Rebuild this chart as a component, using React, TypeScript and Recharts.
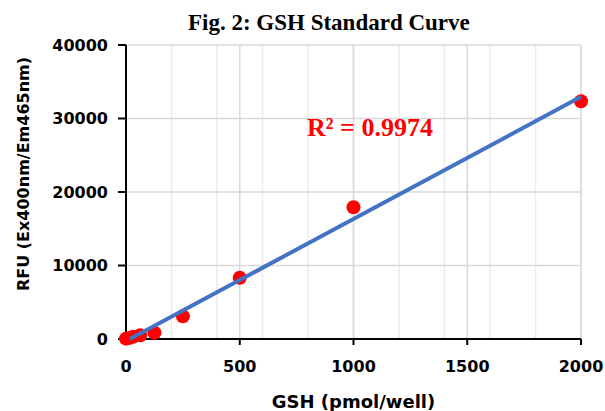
import React from "react";
import { CartesianGrid, Scatter, ScatterChart, XAxis, YAxis } from "recharts";

// GSH standards (pmol/well) and measured RFU
const gshAmounts = [0, 15.6, 31.25, 62.5, 125, 250, 500, 1000, 2000];
const rfuValues = [50, 150, 300, 500, 860, 3080, 8330, 17920, 32350];

// linear trendline end points as drawn in the figure
const trendX = [17, 2000];
const trendY = [0, 32950];

const xTicks = [0, 500, 1000, 1500, 2000];
const yTicks = [0, 10000, 20000, 30000, 40000];
const xMinorGrid = [
  0, 100, 200, 300, 400, 500, 600, 700, 800, 900, 1000,
  1100, 1200, 1300, 1400, 1500, 1600, 1700, 1800, 1900, 2000,
];

const points = gshAmounts.map((x, i) => ({ x, y: rfuValues[i] }));
const trend = trendX.map((x, i) => ({ x, y: trendY[i] }));

const tickFont = { fontFamily: "DejaVu Sans", fontWeight: 700, fontSize: 16, fill: "#000" };

const RedDot = (props: any) => <circle cx={props.cx} cy={props.cy} r={7} fill="#ff0000" />;
const NoDot = () => null;

const YTitle = (props: any) => {
  const vb = props.viewBox;
  const cx = vb.x + 23;
  const cy = 174;
  return (
    <text
      x={cx}
      y={cy}
      transform={`rotate(-90 ${cx} ${cy})`}
      textAnchor="middle"
      dominantBaseline="central"
      style={tickFont}
    >
      RFU (Ex400nm/Em465nm)
    </text>
  );
};

const App = () => {
  return (
    <div style={{ position: "absolute", left: 0, top: 0, width: 605, height: 411, background: "#fff" }}>
      <div
        style={{
          position: "absolute",
          left: 188,
          top: 10,
          fontFamily: "Liberation Serif",
          fontWeight: 700,
          fontSize: 23,
          lineHeight: "26px",
          color: "#000",
          whiteSpace: "nowrap",
        }}
      >
        Fig. 2: GSH Standard Curve
      </div>
      <ScatterChart width={605} height={411} margin={{ top: 45, right: 24, left: 0, bottom: 0 }}>
        <CartesianGrid horizontal={false} verticalValues={xMinorGrid} stroke="#ececec" strokeWidth={1.5} />
        <CartesianGrid stroke="#d9d9d9" strokeWidth={1.5} />
        <XAxis
          type="number"
          dataKey="x"
          domain={[0, 2000]}
          ticks={xTicks}
          height={72}
          tick={tickFont}
          tickSize={6}
          tickMargin={16}
          axisLine={{ stroke: "#000", strokeWidth: 2 }}
          tickLine={{ stroke: "#000", strokeWidth: 2 }}
          label={{
            value: "GSH (pmol/well)",
            position: "insideBottom",
            offset: 3,
            style: { ...tickFont, fontSize: 18 },
          }}
        />
        <YAxis
          type="number"
          dataKey="y"
          domain={[0, 40000]}
          ticks={yTicks}
          width={126}
          tick={tickFont}
          tickSize={8}
          tickMargin={10}
          axisLine={{ stroke: "#000", strokeWidth: 2 }}
          tickLine={{ stroke: "#000", strokeWidth: 2 }}
          label={YTitle}
        />
        <Scatter data={points} shape={RedDot} isAnimationActive={false} />
        <Scatter
          data={trend}
          line={{ stroke: "#4472c4", strokeWidth: 4 }}
          shape={NoDot}
          isAnimationActive={false}
        />
      </ScatterChart>
      <div
        style={{
          position: "absolute",
          left: 307,
          top: 113,
          fontFamily: "Liberation Serif",
          fontWeight: 700,
          fontSize: 26,
          lineHeight: "30px",
          color: "#ff0000",
          whiteSpace: "nowrap",
        }}
      >
        R² = 0.9974
      </div>
    </div>
  );
};

export default App;
